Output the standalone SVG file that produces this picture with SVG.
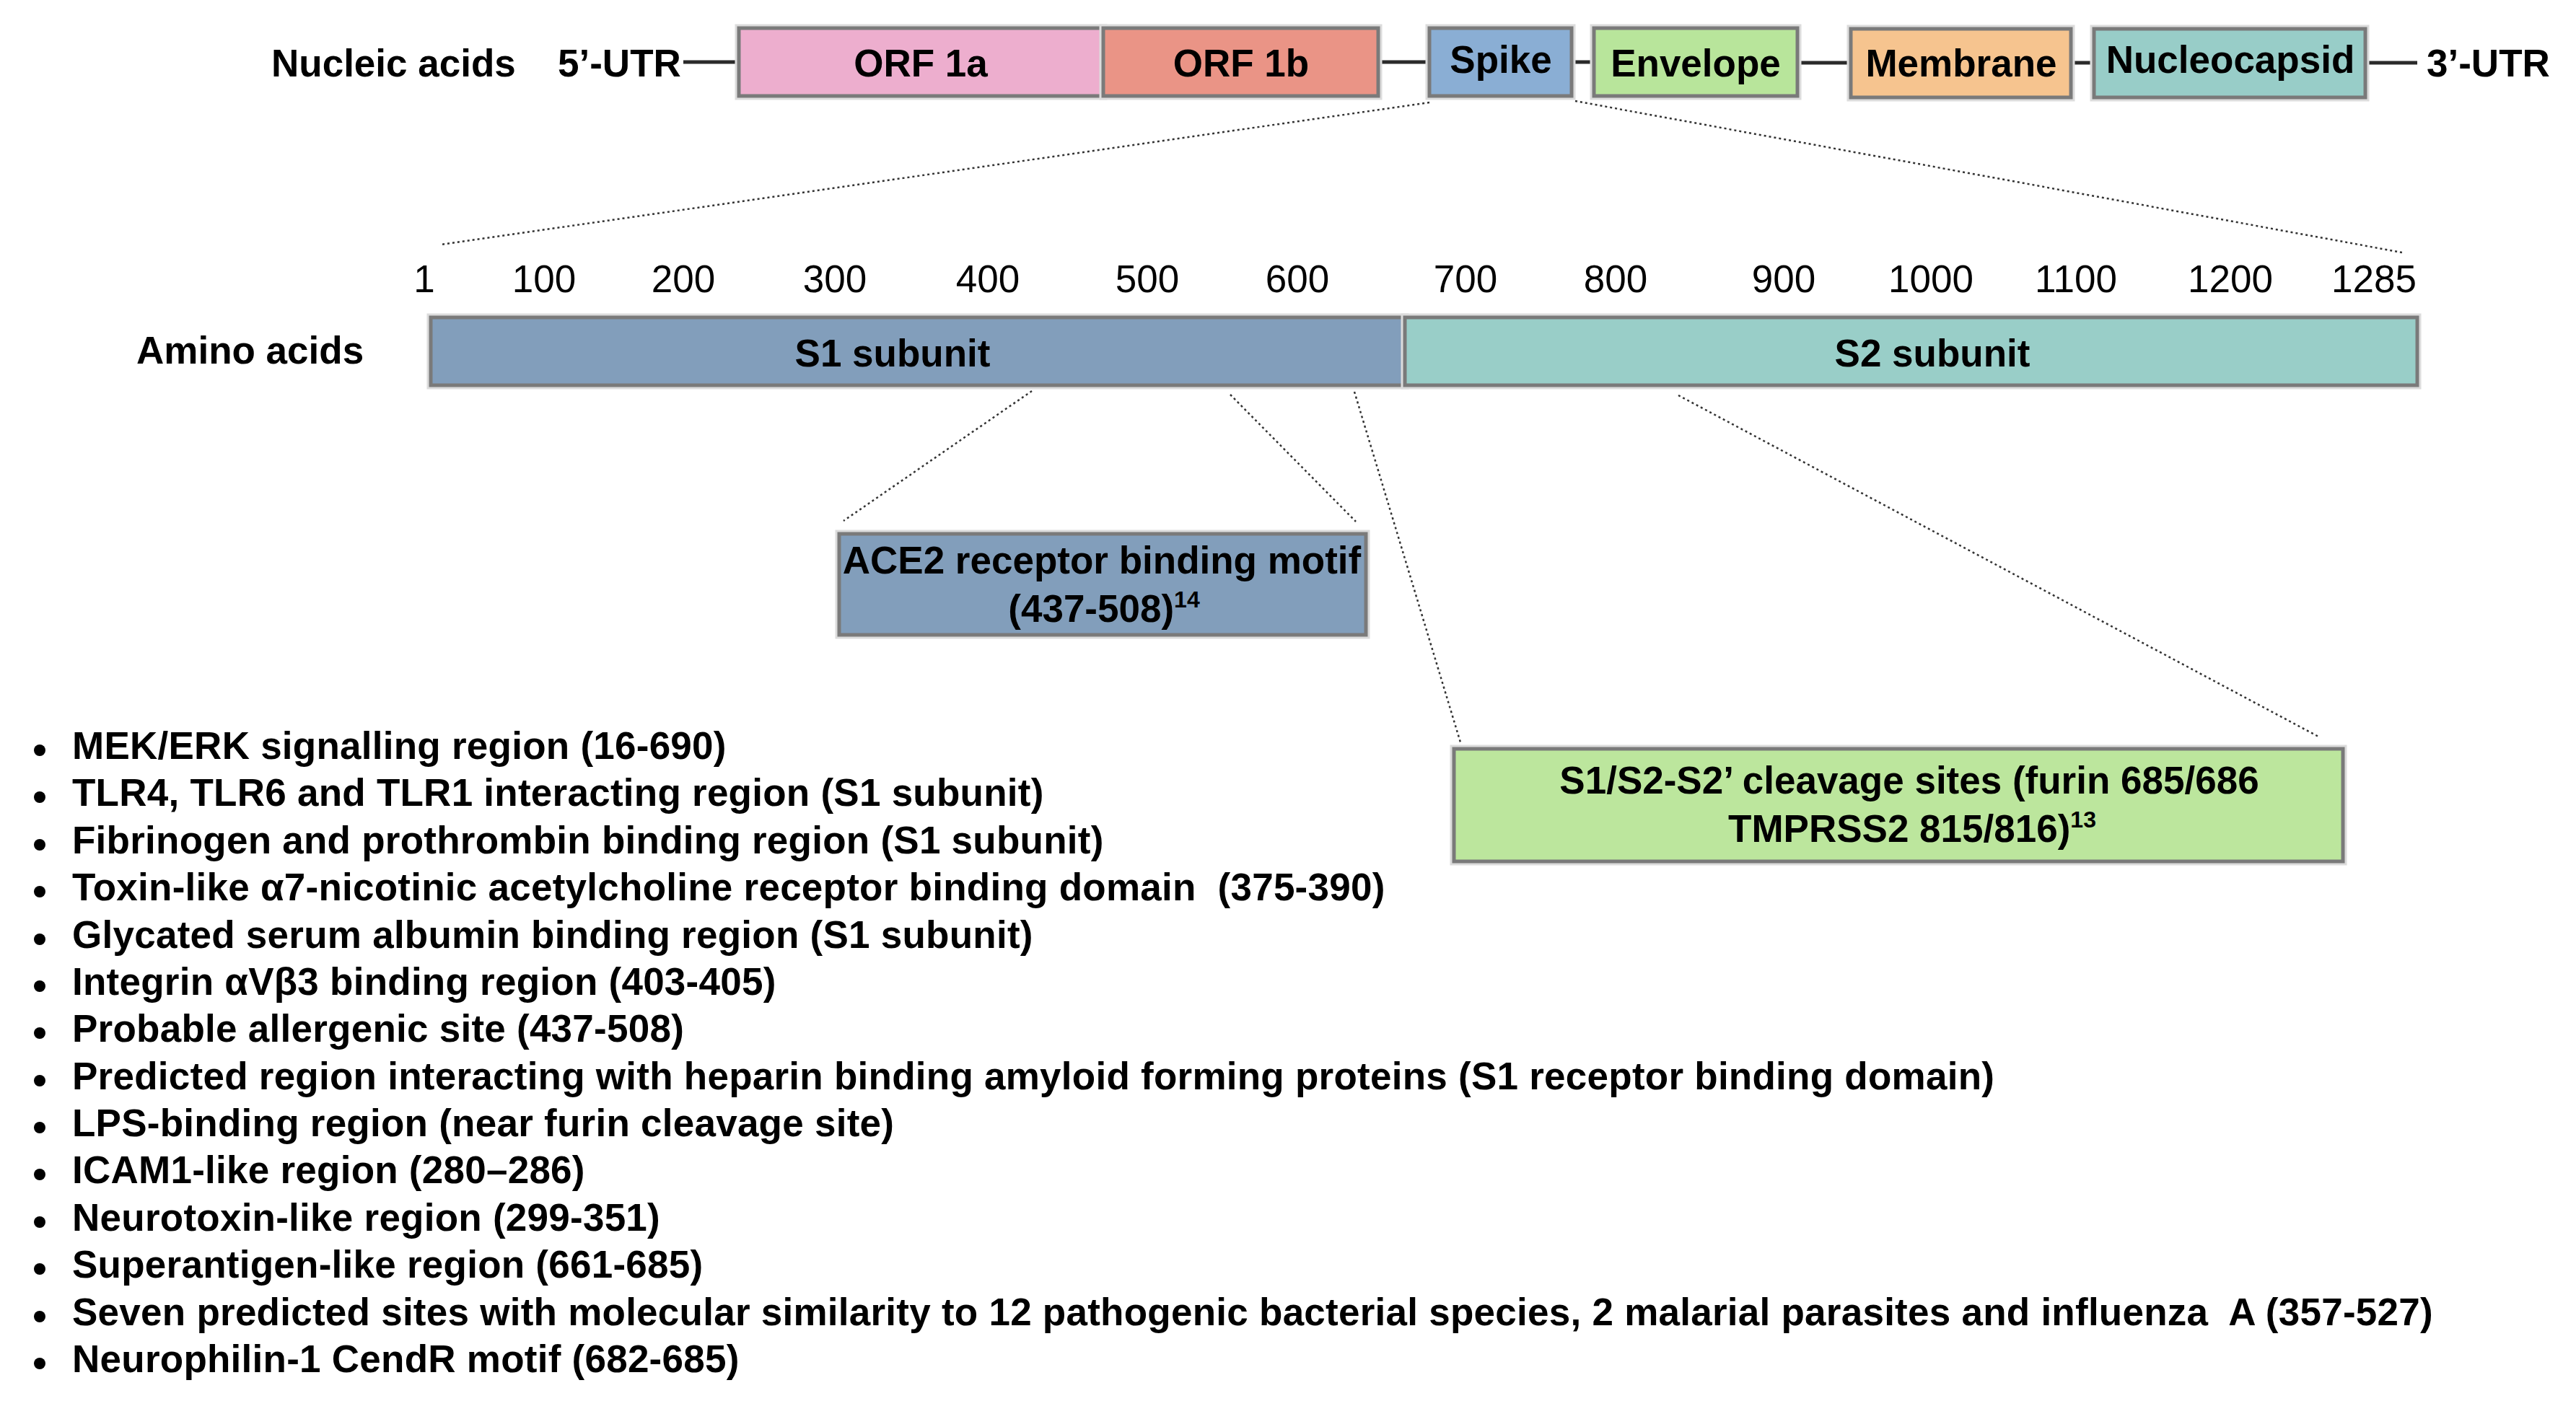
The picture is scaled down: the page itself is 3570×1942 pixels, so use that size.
<svg xmlns="http://www.w3.org/2000/svg" width="3570" height="1942" viewBox="0 0 3570 1942">
<style>
  text { font-family: "Liberation Sans", Arial, Helvetica, sans-serif; font-size: 53px; font-weight: bold; fill: #000; white-space: pre; }
  .num { font-weight: normal; text-anchor: middle; }
  .mid { text-anchor: middle; }
  .box { stroke: #7a7a7a; stroke-width: 5; }
  .halo { fill: none; stroke: #dcdcdc; stroke-width: 11; }
  .link { stroke: #2a2a2a; stroke-width: 5; fill: none; }
  .dot { stroke: #333; stroke-width: 2.5; stroke-dasharray: 3 4; fill: none; }
  .sup { font-size: 32px; }
  .bul { fill: #000; }
  #feature-list text { letter-spacing: 0.25px; }
</style>
<rect width="3570" height="1942" fill="#fff"/>

<g id="connectors">
  <line class="link" x1="947" y1="86" x2="1024" y2="86"/>
  <line class="link" x1="1910" y1="86" x2="1981" y2="86"/>
  <line class="link" x1="2178" y1="86" x2="2209" y2="86"/>
  <line class="link" x1="2491" y1="87" x2="2565" y2="87"/>
  <line class="link" x1="2870" y1="87" x2="2902" y2="87"/>
  <line class="link" x1="3278" y1="87" x2="3350" y2="87"/>
  <line class="dot" x1="1981" y1="142" x2="611" y2="339"/>
  <line class="dot" x1="2183" y1="140" x2="3329" y2="350"/>
  <line class="dot" x1="1430" y1="542" x2="1169" y2="722"/>
  <line class="dot" x1="1705" y1="547" x2="1879" y2="723"/>
  <line class="dot" x1="1877" y1="543" x2="2024" y2="1029"/>
  <line class="dot" x1="2326" y1="548" x2="3213" y2="1021"/>
</g>

<g id="label-nucleic">
  <text x="376" y="106">Nucleic acids</text>
  <text x="773" y="106">5’-UTR</text>
  <text x="3363" y="106">3’-UTR</text>
</g>

<g id="orf1a">
  <rect class="halo" x="1024" y="39" width="505" height="94"/>
  <rect class="box" x="1024" y="39" width="505" height="94" fill="#EDAECE"/>
  <text class="mid" x="1276" y="106">ORF 1a</text>
</g>
<g id="orf1b">
  <rect class="halo" x="1529" y="39" width="381" height="94"/>
  <rect class="box" x="1529" y="39" width="381" height="94" fill="#EA9486"/>
  <text class="mid" x="1720" y="106">ORF 1b</text>
</g>
<g id="spike">
  <rect class="halo" x="1981" y="39" width="197" height="94"/>
  <rect class="box" x="1981" y="39" width="197" height="94" fill="#8AAED4"/>
  <text class="mid" x="2080" y="101">Spike</text>
</g>
<g id="envelope">
  <rect class="halo" x="2209" y="39" width="282" height="94"/>
  <rect class="box" x="2209" y="39" width="282" height="94" fill="#B8E59B"/>
  <text class="mid" x="2350" y="106">Envelope</text>
</g>
<g id="membrane">
  <rect class="halo" x="2565" y="40" width="305" height="95"/>
  <rect class="box" x="2565" y="40" width="305" height="95" fill="#F6C48F"/>
  <text class="mid" x="2718" y="106">Membrane</text>
</g>
<g id="nucleocapsid">
  <rect class="halo" x="2902" y="40" width="376" height="95"/>
  <rect class="box" x="2902" y="40" width="376" height="95" fill="#98CDC8"/>
  <text class="mid" x="3091" y="101">Nucleocapsid</text>
</g>

<g id="scale">
  <text class="num" x="588" y="405">1</text>
  <text class="num" x="754" y="405">100</text>
  <text class="num" x="947" y="405">200</text>
  <text class="num" x="1157" y="405">300</text>
  <text class="num" x="1369" y="405">400</text>
  <text class="num" x="1590" y="405">500</text>
  <text class="num" x="1798" y="405">600</text>
  <text class="num" x="2031" y="405">700</text>
  <text class="num" x="2239" y="405">800</text>
  <text class="num" x="2472" y="405">900</text>
  <text class="num" x="2676" y="405">1000</text>
  <text class="num" x="2877" y="405">1100</text>
  <text class="num" x="3091" y="405">1200</text>
  <text class="num" x="3290" y="405">1285</text>
</g>

<g id="label-amino">
  <text x="189" y="504">Amino acids</text>
</g>
<g id="s1">
  <rect class="halo" x="597" y="440" width="1350" height="94"/>
  <rect class="box" x="597" y="440" width="1350" height="94" fill="#829EBB"/>
  <text class="mid" x="1237" y="508">S1 subunit</text>
</g>
<g id="s2">
  <rect class="halo" x="1947" y="440" width="1403" height="94"/>
  <rect class="box" x="1947" y="440" width="1403" height="94" fill="#99CEC8"/>
  <text class="mid" x="2678" y="508">S2 subunit</text>
</g>

<g id="ace2">
  <rect class="halo" x="1163" y="740" width="730" height="140"/>
  <rect class="box" x="1163" y="740" width="730" height="140" fill="#829EBB"/>
  <text class="mid" x="1527" y="795">ACE2 receptor binding motif</text>
  <text class="mid" x="1530" y="862">(437-508)<tspan class="sup" dy="-20">14</tspan></text>
</g>

<g id="cleavage">
  <rect class="halo" x="2015" y="1038" width="1232" height="156"/>
  <rect class="box" x="2015" y="1038" width="1232" height="156" fill="#BCE69D"/>
  <text class="mid" x="2646" y="1100">S1/S2-S2’ cleavage sites (furin 685/686</text>
  <text class="mid" x="2650" y="1167">TMPRSS2 815/816)<tspan class="sup" dy="-20">13</tspan></text>
</g>

<g id="feature-list">
  <circle class="bul" cx="55" cy="1040" r="8"/><text x="100" y="1052">MEK/ERK signalling region (16-690)</text>
  <circle class="bul" cx="55" cy="1105" r="8"/><text x="100" y="1117">TLR4, TLR6 and TLR1 interacting region (S1 subunit)</text>
  <circle class="bul" cx="55" cy="1171" r="8"/><text x="100" y="1183">Fibrinogen and prothrombin binding region (S1 subunit)</text>
  <circle class="bul" cx="55" cy="1236" r="8"/><text x="100" y="1248">Toxin-like α7-nicotinic acetylcholine receptor binding domain  (375-390)</text>
  <circle class="bul" cx="55" cy="1302" r="8"/><text x="100" y="1314">Glycated serum albumin binding region (S1 subunit)</text>
  <circle class="bul" cx="55" cy="1367" r="8"/><text x="100" y="1379">Integrin αVβ3 binding region (403-405)</text>
  <circle class="bul" cx="55" cy="1432" r="8"/><text x="100" y="1444">Probable allergenic site (437-508)</text>
  <circle class="bul" cx="55" cy="1498" r="8"/><text x="100" y="1510">Predicted region interacting with heparin binding amyloid forming proteins (S1 receptor binding domain)</text>
  <circle class="bul" cx="55" cy="1563" r="8"/><text x="100" y="1575">LPS-binding region (near furin cleavage site)</text>
  <circle class="bul" cx="55" cy="1628" r="8"/><text x="100" y="1640">ICAM1-like region (280–286)</text>
  <circle class="bul" cx="55" cy="1694" r="8"/><text x="100" y="1706">Neurotoxin-like region (299-351)</text>
  <circle class="bul" cx="55" cy="1759" r="8"/><text x="100" y="1771">Superantigen-like region (661-685)</text>
  <circle class="bul" cx="55" cy="1825" r="8"/><text x="100" y="1837">Seven predicted sites with molecular similarity to 12 pathogenic bacterial species, 2 malarial parasites and influenza  A (357-527)</text>
  <circle class="bul" cx="55" cy="1890" r="8"/><text x="100" y="1902">Neurophilin-1 CendR motif (682-685)</text>
</g>
</svg>
